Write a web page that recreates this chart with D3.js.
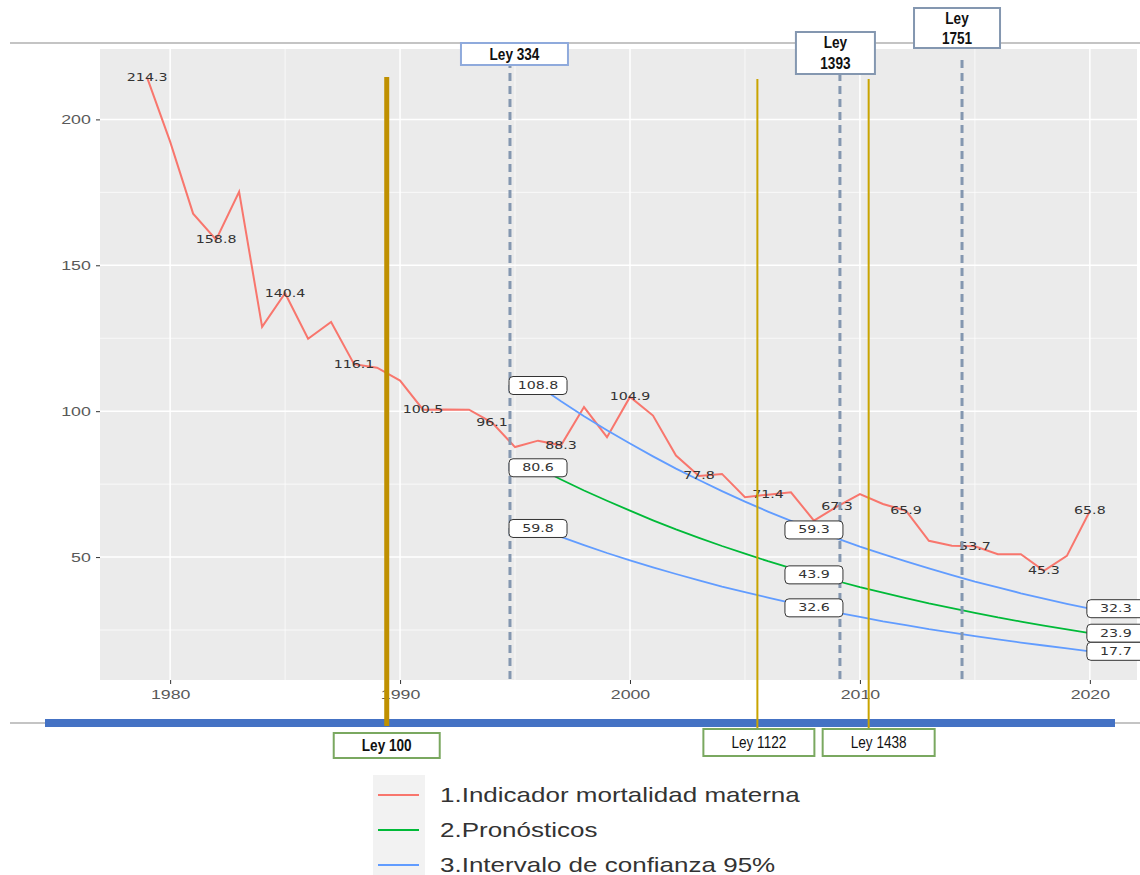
<!DOCTYPE html>
<html>
<head>
<meta charset="utf-8">
<script src="https://cdn.jsdelivr.net/npm/d3@7"></script>
<style>
  body { margin: 0; background: #fff; }
  svg { display: block; font-family: "DejaVu Sans", sans-serif; }
  .tick text { fill: #595959; font-size: 12.5px; }
  .tick line { stroke: #333; }
</style>
</head>
<body>
<div id="chart"></div>
<script>
// serie observada
const years = d3.range(1979, 2021);
const mortalidad = [214.3, 192.4, 167.7, 158.8, 175.2, 128.9, 140.4, 124.8, 130.6, 116.1,
  114.9, 110.5, 100.5, 100.6, 100.5, 96.1, 87.7, 89.9, 88.3, 101.4,
  91.1, 104.9, 98.5, 84.8, 77.8, 78.5, 70.5, 71.4, 72.2, 62.5,
  67.3, 71.6, 68.2, 65.9, 55.6, 53.9, 53.7, 51.0, 51.0, 45.3,
  50.4, 65.8];
const labelYears = [1979, 1982, 1985, 1988, 1991, 1994, 1997, 2000, 2003, 2006, 2009, 2012, 2015, 2018, 2020];

// pronosticos e intervalo 95%
const fYears = d3.range(1996, 2021);
const pronostico = [80.6, 76.6, 72.8, 69.3, 65.9, 62.6, 59.5, 56.6, 53.8, 51.2, 48.6, 46.2, 43.9,
  41.8, 39.7, 37.8, 35.9, 34.1, 32.5, 30.9, 29.3, 27.9, 26.5, 25.2, 23.9];
const icSup = [108.8, 103.4, 98.3, 93.5, 88.9, 84.5, 80.3, 76.4, 72.6, 69.0, 65.6, 62.4, 59.3,
  56.4, 53.6, 51.0, 48.5, 46.1, 43.8, 41.6, 39.6, 37.6, 35.8, 34.0, 32.3];
const icInf = [59.8, 56.9, 54.1, 51.4, 48.9, 46.5, 44.2, 42.0, 39.9, 38.0, 36.1, 34.3, 32.6,
  31.0, 29.5, 28.0, 26.7, 25.3, 24.1, 22.9, 21.8, 20.7, 19.7, 18.7, 17.7];
const fLabelYears = [1996, 2008, 2020];

// leyes (posicion en el eje de anos, como fueron dibujadas)
const leyNames = ["Ley 100", "Ley 334", "Ley 1122", "Ley 1393", "Ley 1438", "Ley 1751"];
const leyPos = [1989.42, 1994.78, 2005.54, 2009.13, 2010.38, 2014.44];
const leyKind = ["gruesa", "punteada", "fina", "punteada", "fina", "punteada"];

const legendLabels = ["1.Indicador mortalidad materna", "2.Pronósticos", "3.Intervalo de confianza 95%"];
const colors = ["#F8766D", "#00BA38", "#619CFF"];

const W = 1140, H = 875;
const L = 100, R = 1137, T = 49, B = 680;
const SX = 1.42; // el grafico original esta estirado a lo ancho

const svg = d3.select("#chart").append("svg").attr("width", W).attr("height", H);

const x = d3.scaleLinear().domain([1976.95, 2022.05]).range([L, R]);
const y = d3.scaleLinear().domain([7.87, 224.13]).range([B, T]);

function wideText(parent, px, py, txt, sx) {
  return parent.append("text")
    .attr("transform", `translate(${px},${py}) scale(${sx},1)`)
    .attr("dy", "0.35em").text(txt);
}

// panel
svg.append("rect").attr("x", L).attr("y", T).attr("width", R - L).attr("height", B - T).attr("fill", "#ebebeb");

const minorX = [1985, 1995, 2005, 2015], minorY = [25, 75, 125, 175];
svg.selectAll(".mx").data(minorX).enter().append("line")
  .attr("x1", d => x(d)).attr("x2", d => x(d)).attr("y1", T).attr("y2", B)
  .attr("stroke", "#fff").attr("stroke-width", 0.7);
svg.selectAll(".my").data(minorY).enter().append("line")
  .attr("x1", L).attr("x2", R).attr("y1", d => y(d)).attr("y2", d => y(d))
  .attr("stroke", "#fff").attr("stroke-width", 0.7);
svg.selectAll(".gx").data(x.ticks(5)).enter().append("line")
  .attr("x1", d => x(d)).attr("x2", d => x(d)).attr("y1", T).attr("y2", B)
  .attr("stroke", "#fff").attr("stroke-width", 1.5);
svg.selectAll(".gy").data([50, 100, 150, 200]).enter().append("line")
  .attr("x1", L).attr("x2", R).attr("y1", d => y(d)).attr("y2", d => y(d))
  .attr("stroke", "#fff").attr("stroke-width", 1.5);

svg.append("g").attr("transform", `translate(${L},0)`)
  .call(d3.axisLeft(y).tickValues([50, 100, 150, 200]).tickSize(4).tickPadding(5))
  .call(g => g.select(".domain").remove())
  .call(g => g.selectAll(".tick text").attr("transform", `scale(${SX},1)`).attr("x", -6.5));
svg.append("g").attr("transform", `translate(0,${B})`)
  .call(d3.axisBottom(x).tickValues([1980, 1990, 2000, 2010, 2020]).tickFormat(d3.format("d")).tickSize(4).tickPadding(6))
  .call(g => g.select(".domain").remove())
  .call(g => g.selectAll(".tick text").attr("transform", `scale(${SX},1)`));

// lineas horizontales de la diapositiva
svg.append("line").attr("x1", 10).attr("x2", W).attr("y1", 43).attr("y2", 43)
  .attr("stroke", "#c4c4c4").attr("stroke-width", 2);
svg.append("line").attr("x1", 10).attr("x2", W).attr("y1", 723).attr("y2", 723)
  .attr("stroke", "#c4c4c4").attr("stroke-width", 2);
svg.append("rect").attr("x", 45).attr("y", 719).attr("width", 1070).attr("height", 8).attr("fill", "#4472c4");

// series
const line = d3.line().x(d => x(d[0])).y(d => y(d[1]));
svg.append("path").datum(years.map((yr, i) => [yr, mortalidad[i]]))
  .attr("d", line).attr("fill", "none").attr("stroke", colors[0]).attr("stroke-width", 2);
[[icSup, colors[2]], [pronostico, colors[1]], [icInf, colors[2]]].forEach(([vals, c]) => {
  svg.append("path").datum(fYears.map((yr, i) => [yr, vals[i]]))
    .attr("d", line).attr("fill", "none").attr("stroke", c).attr("stroke-width", 1.8);
});

// etiquetas de la serie observada
labelYears.forEach(yr => {
  const v = mortalidad[years.indexOf(yr)];
  wideText(svg, x(yr), y(v), v.toFixed(1), SX)
    .attr("text-anchor", "middle").attr("font-size", 10).attr("fill", "#333");
});

// vertical lines for the laws
leyNames.forEach((name, i) => {
  const px = x(leyPos[i]);
  if (leyKind[i] === "gruesa") {
    svg.append("line").attr("x1", px).attr("x2", px).attr("y1", 77).attr("y2", 726)
      .attr("stroke", "#bf9000").attr("stroke-width", 5);
  } else if (leyKind[i] === "fina") {
    svg.append("line").attr("x1", px).attr("x2", px).attr("y1", 79).attr("y2", 729)
      .attr("stroke", "#c9a400").attr("stroke-width", 2);
  } else {
    svg.append("line").attr("x1", px).attr("x2", px).attr("y1", 60).attr("y2", B)
      .attr("stroke", "#8497b0").attr("stroke-width", 3).attr("stroke-dasharray", "8,5");
  }
});

// etiquetas tipo caja de los pronosticos
function boxLabel(px, py, txt) {
  const g = svg.append("g").attr("transform", `translate(${px},${py})`);
  g.append("rect").attr("x", -29).attr("y", -9).attr("width", 58).attr("height", 18)
    .attr("rx", 4).attr("fill", "#fff").attr("stroke", "#333").attr("stroke-width", 1);
  wideText(g, 0, 0, txt, SX).attr("text-anchor", "middle").attr("font-size", 10).attr("fill", "#333");
}
[icSup, pronostico, icInf].forEach(vals => {
  fLabelYears.forEach(yr => {
    const v = vals[fYears.indexOf(yr)];
    const shift = yr === 2020 ? 26 : 0;
    boxLabel(x(yr) + shift, y(v), v.toFixed(1));
  });
});

// cajas de las leyes
function leyBox(i, bx, by, bw, bh, stroke, bold, lines) {
  svg.append("rect").attr("x", bx).attr("y", by).attr("width", bw).attr("height", bh)
    .attr("fill", "#fff").attr("stroke", stroke).attr("stroke-width", 2);
  lines.forEach((t, k) => {
    wideText(svg, bx + bw / 2, by + bh / (lines.length * 2) * (2 * k + 1), t, 0.8)
      .attr("text-anchor", "middle").attr("font-family", '"Liberation Sans", Arial, sans-serif')
      .attr("font-size", 17).attr("font-weight", bold ? "bold" : "normal").attr("fill", "#111");
  });
}
const topBox = "#8faadc", grayBox = "#8497b0", greenBox = "#7aa860";
leyBox(1, x(leyPos[1]) - 49, 43, 107, 22, topBox, true, [leyNames[1]]);
leyBox(3, x(leyPos[3]) - 44, 32, 79, 42, grayBox, true, leyNames[3].split(" "));
leyBox(5, x(leyPos[5]) - 48, 8, 86, 40, grayBox, true, leyNames[5].split(" "));
leyBox(0, x(leyPos[0]) - 53, 733, 106, 25, greenBox, true, [leyNames[0]]);
leyBox(2, x(leyPos[2]) - 54, 729, 111, 27, greenBox, false, [leyNames[2]]);
leyBox(4, x(leyPos[4]) - 46, 729, 112, 27, greenBox, false, [leyNames[4]]);

// leyenda
svg.append("rect").attr("x", 373).attr("y", 775).attr("width", 52).attr("height", 100).attr("fill", "#f2f2f2");
const legY = [795, 830, 865];
legendLabels.forEach((t, i) => {
  svg.append("line").attr("x1", 378).attr("x2", 419).attr("y1", legY[i]).attr("y2", legY[i])
    .attr("stroke", colors[i]).attr("stroke-width", 2);
  wideText(svg, 440, legY[i], t, 1.3)
    .attr("font-family", '"Liberation Sans", Arial, sans-serif')
    .attr("font-size", 20).attr("fill", "#333");
});
</script>
</body>
</html>
